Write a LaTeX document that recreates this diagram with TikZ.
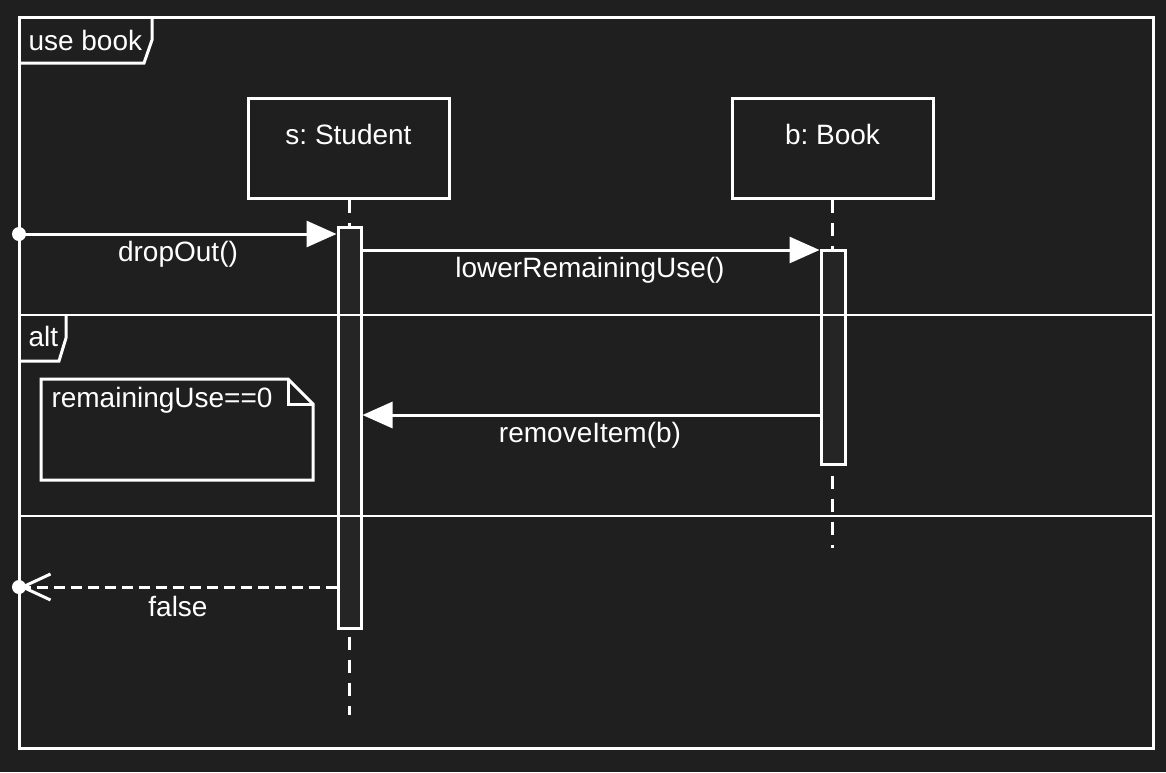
\documentclass[tikz,border=0pt]{standalone}
\usepackage{fontspec}
\setmainfont{Liberation Sans}
\usetikzlibrary{arrows.meta}
\definecolor{bg}{HTML}{1F1F1F}
\definecolor{actfill}{HTML}{252525}
\frenchspacing
\begin{document}
\begin{tikzpicture}[x=1pt,y=-1pt,line width=3pt,
  font=\fontsize{28}{33}\selectfont,
  every node/.style={text=white},
  txt/.style={inner sep=0pt},
  partbox/.style={draw=white,fill=bg,minimum width=201pt,minimum height=100pt,inner sep=0pt},
  actbox/.style={draw=white,fill=actfill,inner sep=0pt},
  life/.style={draw=white,dash pattern=on 13pt off 10pt},
  msg/.style={draw=white,-{Triangle[length=30pt,width=26pt]}},
  ret/.style={draw=white,dash pattern=on 11pt off 6pt,-{Straight Barb[length=28pt,width=26pt]}},
  gate/.style={circle,fill=white,inner sep=0pt,minimum size=14pt},
  sepline/.style={draw=white,line width=2pt}]
% background
\fill[bg] (0,0) rectangle (1166,772);
% outer frame
\coordinate (fTL) at (19,17);
\coordinate (fBR) at (1153,748);
\draw[white] (fTL) rectangle (fBR);
\draw[white] (19,63) -- (144,63) -- (152,40) -- (152,17);
\node[txt,anchor=west] (fname) at (27,40) {use book};
% participants
\node[partbox] (sbox) at (348.5,148) {};
\node[txt] (stxt) at (348.5,134) {s: Student};
\node[partbox] (bbox) at (832.5,148) {};
\node[txt] (btxt) at (832.5,134) {b: Book};
% lifelines
\coordinate (send) at (349,715);
\coordinate (bend) at (832,548);
\draw[life] (sbox.south -| send) -- (send);
\draw[life] (bbox.south -| bend) -- (bend);
% activations
\node[actbox,minimum width=23pt,minimum height=401pt] (actS) at (349.5,427.5) {};
\node[actbox,minimum width=24pt,minimum height=214pt] (actB) at (833,357) {};
% messages
\coordinate (g1) at (19,234);
\draw[msg] (g1) -- (g1 -| actS.west);
\node[gate] (g1dot) at (g1) {};
\node[txt] (l1) at (178,254) {dropOut()};
\coordinate (r2) at (600,250);
\draw[msg] (actS.east |- r2) -- (actB.west |- r2);
\node[txt] (l2) at (590,270) {lowerRemainingUse()};
\coordinate (r3) at (600,415);
\draw[msg] (actB.west |- r3) -- (actS.east |- r3);
\node[txt] (l3) at (590,435) {removeItem(b)};
\coordinate (g4) at (19,587);
\draw[ret] (actS.west |- g4) -- (g4);
\node[gate] (g4dot) at (g4) {};
\node[txt] (l4) at (178,606) {false};
% alt fragment
\draw[sepline] (19,315) -- (1153,315);
\draw[sepline] (19,516) -- (1153,516);
\draw[white] (19,361) -- (59,361) -- (66,338) -- (66,315);
\node[txt,anchor=west] (altname) at (27,336) {alt};
% note
\draw[white,fill=bg,line join=miter] (41,379) -- (288,379) -- (313,404) -- (313,480) -- (41,480) -- cycle;
\draw[white,line join=miter] (288,379) -- (288,404) -- (313,404);
\node[txt,anchor=west] (note) at (50,400) {remainingUse==0};
\end{tikzpicture}
\end{document}
